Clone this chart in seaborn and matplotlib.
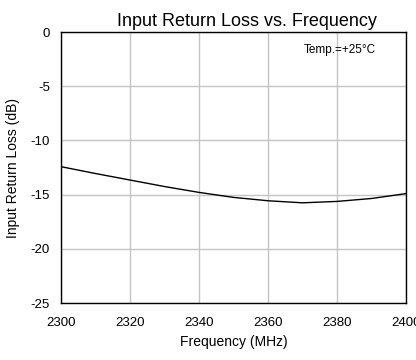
import numpy as np
import pandas as pd
import matplotlib
matplotlib.use('Agg')
import matplotlib.pyplot as plt
import seaborn as sns

# Data
freq_mhz = [2300, 2310, 2320, 2330, 2340, 2350, 2360, 2370, 2380, 2390, 2400]
return_loss_db = [-12.42, -13.05, -13.65, -14.25, -14.79, -15.25, -15.56, -15.75, -15.62, -15.35, -14.9]
x_ticks = [2300, 2320, 2340, 2360, 2380, 2400]
y_ticks = [0, -5, -10, -15, -20, -25]

df = pd.DataFrame({'Frequency': freq_mhz, 'ReturnLoss': return_loss_db})

sns.set_style('white')
plt.rcParams['font.family'] = ['Liberation Sans', 'DejaVu Sans']
plt.rcParams['axes.unicode_minus'] = False
plt.rcParams['text.color'] = 'black'
plt.rcParams['axes.labelcolor'] = 'black'
plt.rcParams['xtick.color'] = 'black'
plt.rcParams['ytick.color'] = 'black'

fig = plt.figure(figsize=(4.16, 3.6), dpi=100)
ax = fig.add_axes([0.147, 0.158, 0.829, 0.753])

sns.lineplot(data=df, x='Frequency', y='ReturnLoss', color='black', linewidth=1.0, ax=ax)

ax.set_xlim(2300, 2400)
ax.set_ylim(-25, 0)
ax.set_xticks(x_ticks)
ax.set_yticks(y_ticks)
ax.tick_params(axis='x', length=0, labelsize=9.5, pad=10, labelcolor='black')
ax.tick_params(axis='y', length=0, labelsize=9.5, pad=8, labelcolor='black')
ax.grid(True, color='#c4c4c4', linewidth=1.0)
for s in ax.spines.values():
    s.set_color('black')
    s.set_linewidth(1.0)

ax.set_xlabel('Frequency (MHz)', fontsize=10, labelpad=4, color='black')
ax.set_ylabel('Input Return Loss (dB)', fontsize=10, labelpad=8, color='black')
ax.set_title('Input Return Loss vs. Frequency', fontsize=13, pad=4, x=0.54, color='black')
ax.text(0.913, 0.934, 'Temp.=+25°C', transform=ax.transAxes, ha='right', va='center',
        fontsize=8.5, color='black')

plt.savefig('out.png', dpi=100)
